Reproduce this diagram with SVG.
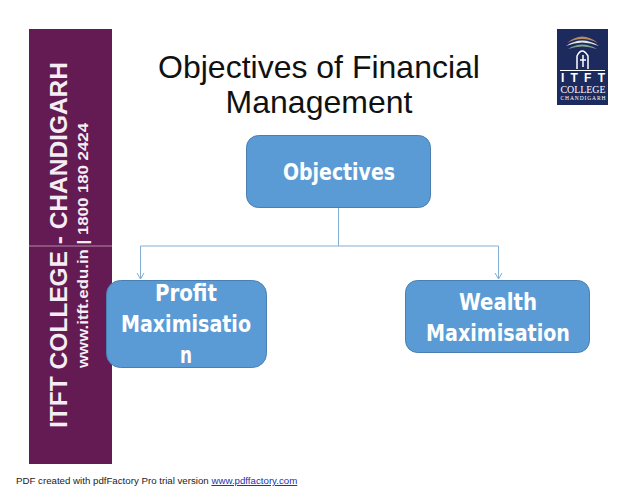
<svg xmlns="http://www.w3.org/2000/svg" width="638" height="493" viewBox="0 0 638 493">
<style>
.node{fill:#5b9bd5;stroke:#4a7fb0;stroke-width:1}
.nt{font-family:"DejaVu Sans Condensed","DejaVu Sans",sans-serif;font-weight:bold;font-size:23px;fill:#fff;text-anchor:middle}
.title{font-family:"Liberation Sans",Arial,sans-serif;font-size:32px;fill:#111;text-anchor:middle}
.side{font-family:"Liberation Sans",Arial,sans-serif;font-weight:bold;fill:#f4eef4}
.conn{fill:none;stroke:#84add3;stroke-width:1}
.lg{font-family:"Liberation Serif",serif;fill:#fff;text-anchor:middle}
</style>
<rect width="638" height="493" fill="#fff"/>
<g id="sidebar">
<rect x="29" y="29" width="83" height="435" fill="#641a52"/>
<line x1="29" y1="246" x2="112" y2="246" stroke="#b58aa8" stroke-width="1"/>
<text class="side" transform="translate(67,428) rotate(-90)" font-size="24" textLength="366" lengthAdjust="spacingAndGlyphs">ITFT COLLEGE - CHANDIGARH</text>
<text class="side" transform="translate(88,368) rotate(-90)" font-size="15" textLength="245" lengthAdjust="spacingAndGlyphs">www.itft.edu.in | 1800 180 2424</text>
</g>
<g id="logo">
<rect x="557" y="29" width="51" height="76" fill="#1c2a5e"/>
<path d="M567 43Q582 30 598 43Q582 35 567 43Z" fill="#b98a60"/>
<path d="M566 46Q582 35 599 46Q582 39 566 46Z" fill="#e8e8e8"/>
<path d="M568 49Q582 40 597 49Q582 44 568 49Z" fill="#7fa88a"/>
<path d="M577 69V56Q582 46 588 56V69" fill="none" stroke="#fff" stroke-width="1.500"/>
<path d="M583 55V67M580 60H586" stroke="#fff" stroke-width="1.500" fill="none"/>
<line x1="560" y1="70.500" x2="605" y2="70.500" stroke="#fff" stroke-width="1"/>
<text x="583" y="82" font-family="'Liberation Sans',sans-serif" font-size="12" font-weight="bold" fill="#fff" text-anchor="middle" textLength="44">ITFT</text>
<text class="lg" x="583" y="93" font-size="9.500" textLength="45" lengthAdjust="spacingAndGlyphs">COLLEGE</text>
<text class="lg" x="583" y="100" font-size="5.500" textLength="45">CHANDIGARH</text>
</g>
<g id="title">
<text class="title" x="319" y="78">Objectives of Financial</text>
<text class="title" x="319" y="113">Management</text>
</g>
<g id="connectors">
<path class="conn" d="M338.500 208V246M140.500 246H498.500M140.500 246V279M498.500 246V279"/>
<path class="conn" d="M137 273L140.500 279L144 273M495 273L498.500 279L502 273"/>
</g>
<g id="objectives">
<rect class="node" x="246.500" y="135.500" width="184" height="72" rx="12"/>
<text class="nt" x="339" y="180" textLength="112" lengthAdjust="spacingAndGlyphs">Objectives</text>
</g>
<g id="profit">
<rect class="node" x="106.500" y="280.500" width="160" height="87" rx="14"/>
<text class="nt" x="186" y="301" textLength="62" lengthAdjust="spacingAndGlyphs">Profit</text>
<text class="nt" x="186" y="332" textLength="130" lengthAdjust="spacingAndGlyphs">Maximisatio</text>
<text class="nt" x="186" y="363" textLength="12" lengthAdjust="spacingAndGlyphs">n</text>
</g>
<g id="wealth">
<rect class="node" x="405.500" y="280.500" width="184" height="72" rx="12"/>
<text class="nt" x="498" y="310" textLength="78" lengthAdjust="spacingAndGlyphs">Wealth</text>
<text class="nt" x="498" y="341" textLength="144" lengthAdjust="spacingAndGlyphs">Maximisation</text>
</g>
<g id="footer">
<text x="16" y="484" font-family="'Liberation Sans',Arial,sans-serif" font-size="9.700" fill="#222">PDF created with pdfFactory Pro trial version <tspan fill="#1a2fb0" text-decoration="underline">www.pdffactory.com</tspan></text>
</g>
</svg>
